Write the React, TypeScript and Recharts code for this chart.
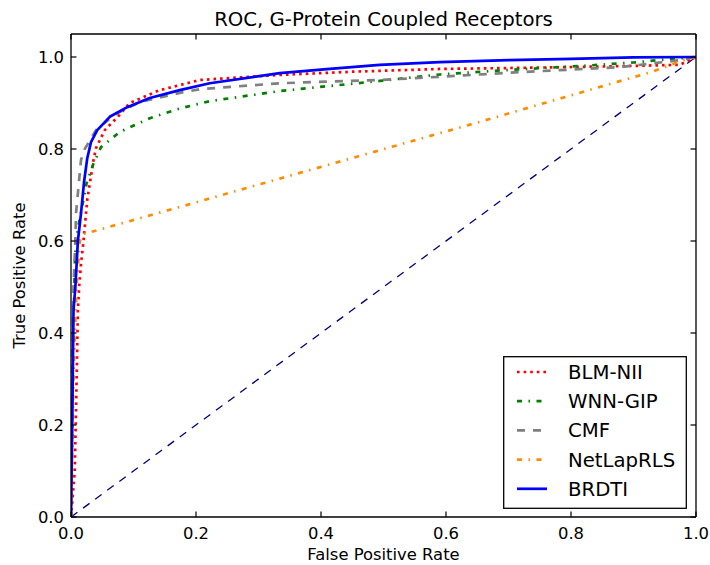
import React from 'react';
import { LineChart, Line, XAxis, YAxis, Legend, Label } from 'recharts';

// ROC points (false positive rate / true positive rate)
const blmFpr = [0, 0.006, 0.009, 0.011, 0.013, 0.016, 0.02, 0.026, 0.036, 0.04, 0.054, 0.075, 0.094, 0.142, 0.206, 0.334, 0.45, 0.59, 0.75, 0.878, 0.974, 1.0];
const blmTpr = [0, 0.1, 0.3, 0.45, 0.5, 0.55, 0.6, 0.69, 0.776, 0.802, 0.841, 0.87, 0.9, 0.928, 0.95, 0.961, 0.968, 0.974, 0.977, 0.98, 0.983, 1.0];

const wnnFpr = [0, 0.003, 0.006, 0.008, 0.013, 0.025, 0.035, 0.048, 0.078, 0.126, 0.174, 0.222, 0.334, 0.494, 0.59, 0.7, 0.81, 0.9, 0.963, 1.0];
const wnnTpr = [0, 0.3, 0.55, 0.6, 0.641, 0.726, 0.765, 0.804, 0.837, 0.867, 0.888, 0.904, 0.926, 0.948, 0.962, 0.972, 0.98, 0.988, 0.996, 1.0];

const cmfFpr = [0, 0.002, 0.004, 0.007, 0.008, 0.016, 0.022, 0.04, 0.07, 0.11, 0.174, 0.206, 0.334, 0.494, 0.59, 0.717, 0.878, 0.974, 1.0];
const cmfTpr = [0, 0.3, 0.5, 0.6, 0.66, 0.776, 0.8, 0.841, 0.875, 0.902, 0.922, 0.93, 0.943, 0.95, 0.957, 0.967, 0.978, 0.993, 1.0];

const netFpr = [0, 0.004, 0.009, 0.014, 0.02, 0.174, 0.654, 0.93, 0.98, 1.0];
const netTpr = [0, 0.3, 0.5, 0.6, 0.615, 0.674, 0.859, 0.968, 0.993, 1.0];

const brdFpr = [0, 0.002, 0.004, 0.007, 0.011, 0.016, 0.021, 0.026, 0.032, 0.042, 0.062, 0.09, 0.126, 0.174, 0.222, 0.334, 0.414, 0.494, 0.59, 0.7, 0.8, 0.9, 1.0];
const brdTpr = [0, 0.2, 0.45, 0.5, 0.6, 0.66, 0.73, 0.78, 0.815, 0.841, 0.87, 0.891, 0.911, 0.928, 0.943, 0.965, 0.974, 0.983, 0.989, 0.993, 0.996, 0.999, 1.0];

const chanceFpr = [0, 1];
const chanceTpr = [0, 1];

const seriesNames = ['BLM-NII', 'WNN-GIP', 'CMF', 'NetLapRLS', 'BRDTI'];
const axisTicks = [0, 0.2, 0.4, 0.6, 0.8, 1.0];

const title = 'ROC, G-Protein Coupled Receptors';
const xLabel = 'False Positive Rate';
const yLabel = 'True Positive Rate';

const toPoints = (xs: number[], ys: number[]) => xs.map((x, i) => ({ x, y: ys[i] }));

const styles = [
  { color: '#ff0000', dash: '2.6 4', width: 2.7 },
  { color: '#008000', dash: '5 6.5 1.5 6.5', width: 2.7 },
  { color: '#808080', dash: '8 8', width: 2.7 },
  { color: '#ff8c00', dash: '5 6.5 1.5 6.5', width: 2.7 },
  { color: '#0000ff', dash: undefined, width: 2.7 },
];

const series = [
  toPoints(blmFpr, blmTpr),
  toPoints(wnnFpr, wnnTpr),
  toPoints(cmfFpr, cmfTpr),
  toPoints(netFpr, netTpr),
  toPoints(brdFpr, brdTpr),
];

const FONT = 'DejaVu Sans, sans-serif';
const TICK = 5.5;

const BottomTick = (p: any) => (
  <g>
    <line x1={p.x} y1={p.y} x2={p.x} y2={p.y - TICK} stroke="#000" strokeWidth={1.2} />
    <text x={p.x} y={p.y + 22} textAnchor="middle" fontSize={16.4} fontFamily={FONT} fill="#000">
      {p.payload.value.toFixed(1)}
    </text>
  </g>
);

const LeftTick = (p: any) => (
  <g>
    <line x1={p.x} y1={p.y} x2={p.x + TICK} y2={p.y} stroke="#000" strokeWidth={1.2} />
    <text x={p.x - 7} y={p.y + 6} textAnchor="end" fontSize={16.4} fontFamily={FONT} fill="#000">
      {p.payload.value.toFixed(1)}
    </text>
  </g>
);

const TopTick = (p: any) => (
  <line x1={p.x} y1={p.y} x2={p.x} y2={p.y + TICK} stroke="#000" strokeWidth={1.2} />
);

const RightTick = (p: any) => (
  <line x1={p.x} y1={p.y} x2={p.x - TICK} y2={p.y} stroke="#000" strokeWidth={1.2} />
);

const LegendBox = () => (
  <svg width={184} height={153} style={{ display: 'block' }}>
    <rect x={0.7} y={0.7} width={182.6} height={151.6} fill="#fff" stroke="#000" strokeWidth={1.3} />
    {seriesNames.map((name, i) => {
      const cy = 16 + i * 29.2;
      return (
        <g key={name}>
          <line x1={14} x2={44} y1={cy} y2={cy} stroke={styles[i].color} strokeWidth={styles[i].width}
            strokeDasharray={styles[i].dash} />
          <text x={65} y={cy + 7} fontSize={19.7} fontFamily={FONT} fill="#000">{name}</text>
        </g>
      );
    })}
  </svg>
);

export default function App() {
  return (
    <div style={{ position: 'absolute', left: 0, top: 0, width: 710, height: 565, background: '#fff' }}>
      <LineChart width={710} height={565} margin={{ top: 33, right: 13, bottom: 0, left: 0 }}>
        <XAxis xAxisId="b" type="number" dataKey="x" domain={[0, 1]} ticks={axisTicks} orientation="bottom"
          height={48} tickSize={0} tickMargin={0} tickLine={false} tick={BottomTick}
          axisLine={{ stroke: '#000', strokeWidth: 1.3 }} allowDataOverflow>
          <Label content={(p: any) => (
            <text x={p.viewBox.x + p.viewBox.width / 2} y={p.viewBox.y + 43} textAnchor="middle"
              fontSize={16.4} fontFamily={FONT} fill="#000">{xLabel}</text>
          )} />
        </XAxis>
        <XAxis xAxisId="t" type="number" dataKey="x" domain={[0, 1]} ticks={axisTicks} orientation="top"
          height={1} tickSize={0} tickMargin={0} tickLine={false} tick={TopTick}
          axisLine={{ stroke: '#000', strokeWidth: 1.3 }} allowDataOverflow>
          <Label content={(p: any) => (
            <text x={p.viewBox.x + p.viewBox.width / 2} y={p.viewBox.y + p.viewBox.height - 8} textAnchor="middle"
              fontSize={19.7} fontFamily={FONT} fill="#000">{title}</text>
          )} />
        </XAxis>
        <YAxis yAxisId="l" type="number" dataKey="y" domain={[0, 1.05]} ticks={axisTicks} orientation="left"
          width={71} tickSize={0} tickMargin={0} tickLine={false} tick={LeftTick}
          axisLine={{ stroke: '#000', strokeWidth: 1.3 }} allowDataOverflow>
          <Label content={(p: any) => (
            <text transform={`translate(25, ${p.viewBox.y + p.viewBox.height / 2}) rotate(-90)`} textAnchor="middle"
              fontSize={16.4} fontFamily={FONT} fill="#000">{yLabel}</text>
          )} />
        </YAxis>
        <YAxis yAxisId="r" type="number" dataKey="y" domain={[0, 1.05]} ticks={axisTicks} orientation="right"
          width={1} tickSize={0} tickMargin={0} tickLine={false} tick={RightTick}
          axisLine={{ stroke: '#000', strokeWidth: 1.3 }} allowDataOverflow />
        <Line xAxisId="t" yAxisId="r" data={toPoints(chanceFpr, chanceTpr)} dataKey="y" type="linear"
          stroke="#000080" strokeWidth={1.3} strokeDasharray="8 7" dot={false} activeDot={false}
          isAnimationActive={false} legendType="none" />
        {series.map((pts, i) => (
          <Line key={seriesNames[i]} xAxisId="b" yAxisId="l" data={pts} dataKey="y" name={seriesNames[i]}
            type="linear" stroke={styles[i].color} strokeWidth={styles[i].width}
            strokeDasharray={styles[i].dash} strokeLinejoin="round" dot={false} activeDot={false}
            isAnimationActive={false} />
        ))}
        <Legend layout="vertical" align="center" verticalAlign="middle" content={LegendBox}
          wrapperStyle={{ left: 503, top: 356, width: 184, height: 153 }} />
      </LineChart>
    </div>
  );
}
